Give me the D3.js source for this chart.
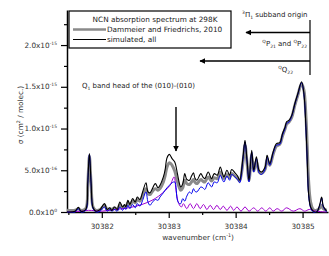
<!DOCTYPE html>
<html>
<head>
<meta charset="utf-8">
<script src="https://cdn.jsdelivr.net/npm/d3@7"></script>
<style>
  body { margin: 0; background: #fff; }
  svg { font-family: "DejaVu Sans", sans-serif; }
</style>
</head>
<body>
<svg></svg>
<script>
// values are sigma in units of 1e-16 cm^2/molec.
const wavenumber = [
  30381.48, 30381.60, 30381.65, 30381.69, 30381.76, 30381.79, 30381.815, 30381.84, 30381.87, 30381.915,
  30381.975, 30382.04, 30382.08, 30382.12, 30382.15, 30382.19, 30382.23, 30382.27, 30382.31, 30382.34,
  30382.36, 30382.39, 30382.42, 30382.46, 30382.50, 30382.53, 30382.57, 30382.61, 30382.66, 30382.69,
  30382.72, 30382.75, 30382.80, 30382.84, 30382.87, 30382.92, 30382.945, 30382.975, 30383.01, 30383.05,
  30383.09, 30383.13, 30383.16, 30383.18, 30383.21, 30383.24, 30383.27, 30383.31, 30383.34, 30383.37,
  30383.39, 30383.42, 30383.48, 30383.51, 30383.54, 30383.59, 30383.64, 30383.68, 30383.725, 30383.77,
  30383.80, 30383.825, 30383.87, 30383.91, 30383.94, 30383.99, 30384.03, 30384.06, 30384.11, 30384.14,
  30384.17, 30384.20, 30384.24, 30384.27, 30384.31, 30384.35, 30384.385, 30384.44, 30384.47, 30384.51,
  30384.56, 30384.61, 30384.66, 30384.70, 30384.74, 30384.76, 30384.80, 30384.84, 30384.885, 30384.93,
  30384.985, 30385.02, 30385.05, 30385.07, 30385.09, 30385.12, 30385.16, 30385.21, 30385.26, 30385.285,
  30385.31, 30385.36
];
const measured = [
  0.2, 0.2, 0.4, 0.2, 0.4, 3.3, 6.7, 3.4, 0.6, 0.2,
  0.3, 0.8, 0.3, 0.4, 0.3, 0.5, 0.3, 0.9, 0.5, 0.7,
  0.6, 1.1, 0.8, 1.3, 1.1, 1.5, 1.3, 2.0, 2.8, 2.2,
  2.1, 2.4, 2.8, 2.6, 2.8, 3.6, 4.3, 5.4, 5.9, 5.6,
  4.9, 3.6, 2.9, 2.6, 2.9, 3.8, 3.4, 3.3, 3.6, 3.9,
  3.6, 3.4, 3.9, 3.7, 3.6, 4.2, 3.7, 4.1, 4.0, 4.8,
  4.3, 4.0, 4.5, 4.1, 4.6, 4.3, 4.0, 3.7, 6.0, 8.0,
  5.9, 3.8, 6.8, 4.9, 6.1, 4.8, 4.6, 5.1, 6.3, 5.6,
  6.9, 7.9, 8.1, 9.1, 10.0, 10.5, 10.8, 11.4, 12.8, 14.0,
  15.4, 14.6, 11.5, 7.8, 3.8, 1.2, 0.3, 0.2, 0.5, 0.8,
  0.4, 0.2
];
const simAll = [
  0.0, 0.1, 0.55, 0.1, 0.3, 3.5, 7.0, 3.5, 0.5, 0.1,
  0.3, 1.0, 0.3, 0.5, 0.2, 0.6, 0.3, 1.2, 0.6, 0.9,
  0.6, 1.4, 0.9, 1.6, 1.2, 1.8, 1.5, 2.4, 3.5, 2.4,
  2.3, 2.7, 3.4, 2.9, 3.2, 4.2, 5.0, 6.5, 6.9, 6.4,
  6.0, 4.6, 3.4, 3.0, 3.4, 4.6, 3.9, 3.8, 4.3, 4.7,
  4.1, 3.8, 4.6, 4.2, 4.0, 4.8, 4.0, 4.6, 4.4, 5.4,
  4.7, 4.2, 5.0, 4.4, 5.1, 4.7, 4.3, 3.8, 6.6, 8.6,
  6.2, 3.8, 7.4, 5.0, 6.6, 5.0, 4.8, 5.4, 6.8, 5.8,
  7.2, 8.2, 8.3, 9.4, 10.2, 10.8, 11.0, 11.6, 13.0, 14.2,
  15.6, 14.2, 10.2, 6.2, 2.2, 0.6, 0.1, 0.0, 1.0, 1.8,
  0.7, 0.1
];
const simCold = [
  0.0, 0.0, 0.4, 0.0, 0.2, 3.4, 6.9, 3.4, 0.4, 0.0,
  0.1, 0.6, 0.1, 0.3, 0.1, 0.3, 0.1, 0.6, 0.2, 0.5,
  0.3, 0.8, 0.4, 0.9, 0.5, 1.0, 0.7, 1.4, 2.4, 1.2,
  0.8, 1.1, 1.5, 1.4, 1.8, 2.3, 2.6, 2.9, 3.2, 3.5,
  3.6, 1.4, 1.0, 1.0, 1.6, 1.3, 1.9, 2.4, 2.2, 2.8,
  2.5, 2.4, 3.0, 2.9, 2.7, 3.5, 3.0, 3.6, 3.5, 4.4,
  3.9, 3.6, 4.3, 3.8, 4.5, 4.2, 3.9, 3.5, 6.3, 8.4,
  6.0, 3.6, 7.2, 4.8, 6.4, 4.7, 4.5, 5.1, 6.6, 5.6,
  7.0, 8.0, 8.1, 9.2, 10.0, 10.6, 10.8, 11.5, 12.9, 14.1,
  15.5, 14.1, 10.1, 6.1, 2.1, 0.5, 0.0, 0.0, 0.9, 1.7,
  0.6, 0.0
];
// (010)-(010) hot band
const hotWavenumber = [
  30381.48, 30381.7, 30381.8, 30382.0, 30382.2, 30382.4, 30382.6, 30382.75, 30382.85, 30382.95,
  30383.02, 30383.08, 30383.11, 30383.15, 30383.19,
  30383.22, 30383.27, 30383.32, 30383.37, 30383.42, 30383.47, 30383.52, 30383.57,
  30383.62, 30383.67, 30383.72, 30383.77, 30383.815, 30383.87, 30383.925, 30383.97,
  30384.02, 30384.08, 30384.14, 30384.2, 30384.27, 30384.33, 30384.39, 30384.45,
  30384.51, 30384.56, 30384.62, 30384.69, 30384.76, 30384.86, 30384.96, 30385.03,
  30385.1, 30385.2, 30385.36
];
const simHot = [
  0.0, 0.1, 0.2, 0.1, 0.3, 0.5, 0.9, 1.4, 1.9, 2.6,
  3.2, 4.2, 2.5, 1.0, 0.6,
  1.0, 0.4, 1.0, 0.4, 1.0, 0.4, 0.9, 0.3,
  0.8, 0.3, 0.8, 0.3, 0.7, 0.2, 0.7, 0.2,
  0.6, 0.1, 0.6, 0.1, 0.5, 0.1, 0.5, 0.1,
  0.5, 0.1, 0.4, 0.1, 0.5, 0.1, 0.4, 0.1,
  0.3, 0.1, 0.0
];
const xMajor = [30382, 30383, 30384, 30385];
const xMinor = [30381.5, 30382.5, 30383.5, 30384.5];
const yMajor = [0, 5, 10, 15, 20];
const yMinor = [2.5, 7.5, 12.5, 17.5, 22.5];
const yLabelMain = ["0.0x10", "5.0x10", "1.0x10", "1.5x10", "2.0x10"];
const yLabelExp = ["0", "-16", "-15", "-15", "-15"];

const width = 329, height = 256;
const svg = d3.select("svg").attr("width", width).attr("height", height);

const x = d3.scaleLinear().domain([30381.48, 30385.38]).range([67, 328]);
const y = d3.scaleLinear().domain([0, 24.2]).range([212, 10]);

// arrow head
svg.append("defs").append("marker")
    .attr("id", "head").attr("viewBox", "0 0 10 10")
    .attr("refX", 9).attr("refY", 5)
    .attr("markerWidth", 6).attr("markerHeight", 6)
    .attr("markerUnits", "userSpaceOnUse")
    .attr("orient", "auto")
    .append("path").attr("d", "M0,0L10,5L0,10Z").attr("fill", "#000");

// axes
const xAxis = svg.append("g").attr("transform", "translate(0,212)")
    .call(d3.axisBottom(x).tickValues(xMajor).tickFormat(d3.format("d")).tickSize(6).tickSizeOuter(0));
svg.append("g").attr("transform", "translate(0,212)")
    .call(d3.axisBottom(x).tickValues(xMinor).tickFormat("").tickSize(3).tickSizeOuter(0))
    .select(".domain").remove();

const yAxis = svg.append("g").attr("transform", "translate(67,0)")
    .call(d3.axisLeft(y).tickValues(yMajor).tickFormat("").tickSize(6).tickSizeOuter(0));
svg.append("g").attr("transform", "translate(67,0)")
    .call(d3.axisLeft(y).tickValues(yMinor).tickFormat("").tickSize(3).tickSizeOuter(0))
    .select(".domain").remove();

svg.selectAll(".domain").attr("stroke-width", 1.5);
svg.selectAll(".tick line").attr("stroke-width", 1.2);
xAxis.selectAll(".tick text").attr("font-size", 7.3).attr("fill", "#333")
    .attr("font-family", "DejaVu Sans").attr("dy", "1.15em");

// y tick labels with exponents
yMajor.forEach(function (v, i) {
    let t = svg.append("text")
        .attr("x", 57).attr("y", y(v) + 2.5)
        .attr("text-anchor", "end")
        .attr("font-size", 7.3).attr("fill", "#333");
    t.append("tspan").text(yLabelMain[i]);
    t.append("tspan").attr("dy", -3).attr("font-size", 4.5).text(yLabelExp[i]);
});

// axis titles
svg.append("text").attr("x", 198).attr("y", 240).attr("text-anchor", "middle")
    .attr("font-size", 7.3).attr("fill", "#333")
    .call(function (t) {
        t.append("tspan").text("wavenumber (cm");
        t.append("tspan").attr("dy", -3).attr("font-size", 4.8).text("-1");
        t.append("tspan").attr("dy", 3).text(")");
    });
svg.append("text").attr("transform", "translate(23,115) rotate(-90)")
    .attr("text-anchor", "middle").attr("font-size", 7.3).attr("fill", "#333")
    .call(function (t) {
        t.append("tspan").text("σ (cm");
        t.append("tspan").attr("dy", -3).attr("font-size", 4.8).text("2");
        t.append("tspan").attr("dy", 3).text(" / molec.)");
    });

// spectra
const line = function (xs) {
    return d3.line()
        .x(function (d, i) { return x(xs[i]); })
        .y(function (d) { return y(d); })
        .curve(d3.curveCatmullRom.alpha(0.5));
};
const plot = svg.append("g");
plot.append("path").attr("d", line(wavenumber)(measured))
    .attr("fill", "none").attr("stroke", "#8a8a8a").attr("stroke-width", 3);
plot.append("path").attr("d", line(hotWavenumber)(simHot))
    .attr("fill", "none").attr("stroke", "#a000d0").attr("stroke-width", 1);
plot.append("path").attr("d", line(wavenumber)(simCold))
    .attr("fill", "none").attr("stroke", "#0000ee").attr("stroke-width", 1);
plot.append("path").attr("d", line(wavenumber)(simAll))
    .attr("fill", "none").attr("stroke", "#000").attr("stroke-width", 1.1);

// legend
const legend = svg.append("g");
legend.append("rect").attr("x", 69).attr("y", 11).attr("width", 162).attr("height", 37)
    .attr("fill", "#fff").attr("stroke", "#000").attr("stroke-width", 1.2);
legend.append("text").attr("x", 155).attr("y", 22).attr("text-anchor", "middle")
    .attr("font-size", 7.3).attr("fill", "#222").text("NCN absorption spectrum at 298K");
legend.append("line").attr("x1", 73).attr("x2", 106).attr("y1", 29.5).attr("y2", 29.5)
    .attr("stroke", "#8a8a8a").attr("stroke-width", 2.5);
legend.append("text").attr("x", 107).attr("y", 32).attr("font-size", 7.3).attr("fill", "#222")
    .text("Dammeier and Friedrichs, 2010");
legend.append("line").attr("x1", 73).attr("x2", 106).attr("y1", 39.5).attr("y2", 39.5)
    .attr("stroke", "#000").attr("stroke-width", 1.1);
legend.append("text").attr("x", 107).attr("y", 42).attr("font-size", 7.3).attr("fill", "#222")
    .text("simulated, all");

// annotations
const ann = svg.append("g");
ann.append("line").attr("x1", 310).attr("x2", 310).attr("y1", 20).attr("y2", 75)
    .attr("stroke", "#000").attr("stroke-width", 1.2);
ann.append("line").attr("x1", 310).attr("x2", 246).attr("y1", 32.5).attr("y2", 32.5)
    .attr("stroke", "#000").attr("stroke-width", 1.4).attr("marker-end", "url(#head)");
ann.append("line").attr("x1", 310).attr("x2", 200).attr("y1", 61).attr("y2", 61)
    .attr("stroke", "#000").attr("stroke-width", 1.4).attr("marker-end", "url(#head)");
ann.append("line").attr("x1", 176).attr("x2", 176).attr("y1", 107).attr("y2", 151)
    .attr("stroke", "#000").attr("stroke-width", 1.4).attr("marker-end", "url(#head)");

function label(xp, yp, parts, anchor) {
    let t = ann.append("text").attr("x", xp).attr("y", yp)
        .attr("text-anchor", anchor || "start").attr("font-size", 7).attr("fill", "#222");
    parts.forEach(function (p) {
        let s = t.append("tspan").text(p[0]);
        if (p[1] === "sup") s.attr("font-size", 4.5).attr("baseline-shift", "3");
        if (p[1] === "sub") s.attr("font-size", 4.5).attr("baseline-shift", "-1.5");
    });
}
label(242, 17, [["3", "sup"], ["Π"], ["1", "sub"], [" subband origin"]]);
label(307, 46, [["Q", "sup"], ["P"], ["21", "sub"], [" and "], ["Q", "sup"], ["P"], ["22", "sub"]], "end");
label(293, 72, [["Q", "sup"], ["Q"], ["22", "sub"]], "end");
label(82, 88, [["Q"], ["1", "sub"], [" band head of the (010)-(010)"]]);
</script>
</body>
</html>
